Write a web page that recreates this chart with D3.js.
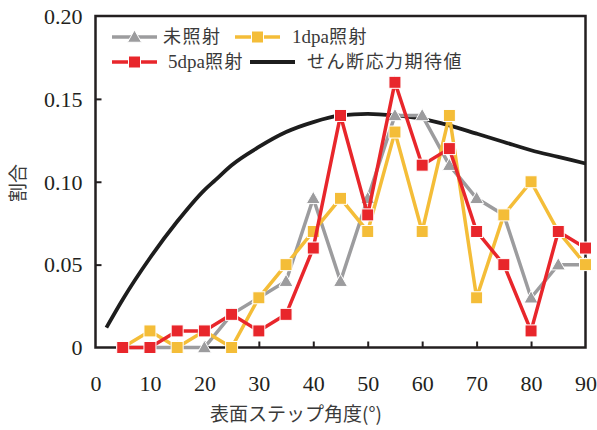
<!DOCTYPE html>
<html><head><meta charset="utf-8">
<script src="https://cdn.jsdelivr.net/npm/d3@7"></script>
<style>
html,body{margin:0;padding:0;background:#fff;}
svg{display:block;}
.num{font-family:"Liberation Serif","Times New Roman",Times,serif;}
.jp{font-family:"Noto Sans CJK JP","Noto Sans",sans-serif;}
</style></head>
<body>
<svg id="chart" width="597" height="430"></svg>
<script>
// Step angle bins (degrees)
const angles = [5,10,15,20,25,30,35,40,45,50,55,60,65,70,75,80,85,90];
// Fraction of steps per angle bin
const unirradiated = [0,0,0,0,0.02,0.03,0.04,0.09,0.04,0.09,0.14,0.14,0.11,0.09,0.08,0.03,0.05,0.05];
const dpa1 = [0,0.01,0,0.01,0,0.03,0.05,0.07,0.09,0.07,0.13,0.07,0.14,0.03,0.08,0.10,0.07,0.05];
const dpa5 = [0,0,0.01,0.01,0.02,0.01,0.02,0.06,0.14,0.08,0.16,0.11,0.12,0.07,0.05,0.01,0.07,0.06];
// Expected shear stress curve
const shearAngles = [2,5,10,15,20,22,25,30,35,40,45,50,55,60,65,70,75,80,85,90];
const shearValues = [0.012,0.029,0.054,0.076,0.095,0.101,0.110,0.121,0.130,0.136,0.140,0.141,0.140,0.138,0.134,0.129,0.124,0.119,0.115,0.111];

const xTicks = [0,10,20,30,40,50,60,70,80,90];
const yTicks = [0,0.05,0.10,0.15,0.20];
const yTickLabels = ["0","0.05","0.10","0.15","0.20"];

const colors = {gray:"#9c9c9e", yellow:"#f4bd38", red:"#e8262b", black:"#1d1d1d"};

const svg = d3.select("#chart");
const L = 95.5, R = 585.5, T = 16, B = 347.5;
const x = d3.scaleLinear().domain([0,90]).range([L,R]);
const y = d3.scaleLinear().domain([0,0.20]).range([B,T]);

// Axes with inward ticks
const yAxis = d3.axisLeft(y).tickValues(yTicks).tickSizeInner(-6).tickSizeOuter(0)
  .tickPadding(13).tickFormat((d,i)=>yTickLabels[i]);
const xAxis = d3.axisBottom(x).tickValues(xTicks).tickSizeInner(-6).tickSizeOuter(0)
  .tickPadding(28).tickFormat(d3.format("d"));

const gy = svg.append("g").attr("transform",`translate(${L},0)`).call(yAxis);
const gx = svg.append("g").attr("transform",`translate(0,${B})`).call(xAxis);
[gx,gy].forEach(g=>{
  g.attr("font-family",null).attr("font-size",null);
  g.select(".domain").remove();
  g.selectAll(".tick line").attr("stroke","#231f20").attr("stroke-width",2);
  g.selectAll(".tick text").attr("class","num").attr("font-size",22).attr("fill","#231f20");
});
gx.selectAll(".tick line").filter(d=>d===0||d===90).remove();
gy.selectAll(".tick line").filter(d=>d===0||d===0.20).remove();
gy.selectAll(".tick text").attr("dy","0.33em");

// Plot frame
svg.append("rect").attr("x",L).attr("y",T).attr("width",R-L).attr("height",B-T)
  .attr("fill","none").attr("stroke","#231f20").attr("stroke-width",2.5);

// Axis titles
svg.append("text").attr("class","jp").attr("x",296).attr("y",421).attr("text-anchor","middle")
  .attr("fill","#3a3a3a").attr("font-size",19)
  .text("表面ステップ角度(°)");
svg.append("text").attr("class","jp").attr("transform","translate(25,183) rotate(-90)").attr("text-anchor","middle")
  .attr("fill","#3a3a3a").attr("font-size",19)
  .text("割合");

const line = d3.line().x(d=>x(d[0])).y(d=>y(d[1]));
const curve = d3.line().x(d=>x(d[0])).y(d=>y(d[1])).curve(d3.curveMonotoneX);

// Shear stress curve
svg.append("path").datum(d3.zip(shearAngles,shearValues))
  .attr("d",curve).attr("fill","none").attr("stroke",colors.black).attr("stroke-width",3.8);

function drawMarker(g,type,cx,cy,color){
  if(type==="tri"){
    const s=7;
    g.append("path").attr("d",`M${cx},${cy-s}L${cx+s},${cy+s*0.75}L${cx-s},${cy+s*0.75}Z`)
      .attr("fill",color).attr("stroke","#fff").attr("stroke-width",1);
  } else {
    const s=12;
    g.append("rect").attr("x",cx-s/2).attr("y",cy-s/2).attr("width",s).attr("height",s)
      .attr("fill",color).attr("stroke","#fff").attr("stroke-width",1);
  }
}

const series = [
  {vals:unirradiated,color:colors.gray,type:"tri"},
  {vals:dpa1,color:colors.yellow,type:"sq"},
  {vals:dpa5,color:colors.red,type:"sq"}
];
series.forEach(s=>{
  const g = svg.append("g");
  const pts = d3.zip(angles,s.vals);
  g.append("path").datum(pts).attr("d",line).attr("fill","none")
    .attr("stroke",s.color).attr("stroke-width",3.5).attr("stroke-linejoin","miter");
  pts.forEach(p=>drawMarker(g,s.type,x(p[0]),y(p[1]),s.color));
});

// Legend: Latin prefix in serif, Japanese part in sans
const legendItems = [
  {latin:"",jp:"未照射",color:colors.gray,type:"tri",lx:112,ly:37,tx:163},
  {latin:"1dpa",jp:"照射",color:colors.yellow,type:"sq",lx:235,ly:37,tx:292},
  {latin:"5dpa",jp:"照射",color:colors.red,type:"sq",lx:112,ly:62,tx:168},
  {latin:"",jp:"せん断応力期待値",color:colors.black,type:null,lx:250,ly:62,tx:307}
];
const lg = svg.append("g");
legendItems.forEach(it=>{
  lg.append("line").attr("x1",it.lx).attr("x2",it.lx+45).attr("y1",it.ly).attr("y2",it.ly)
    .attr("stroke",it.color).attr("stroke-width",it.type?3.5:3.8);
  if(it.type) drawMarker(lg,it.type,it.lx+22.5,it.ly,it.color);
  const t = lg.append("text").attr("x",it.tx).attr("y",it.ly).attr("dy","0.35em")
    .attr("fill","#3a3a3a").attr("font-size",18);
  if(it.latin) t.append("tspan").attr("class","num").attr("font-size",19).text(it.latin);
  t.append("tspan").attr("class","jp").attr("letter-spacing",1.5).text(it.jp);
});
</script>
</body></html>
